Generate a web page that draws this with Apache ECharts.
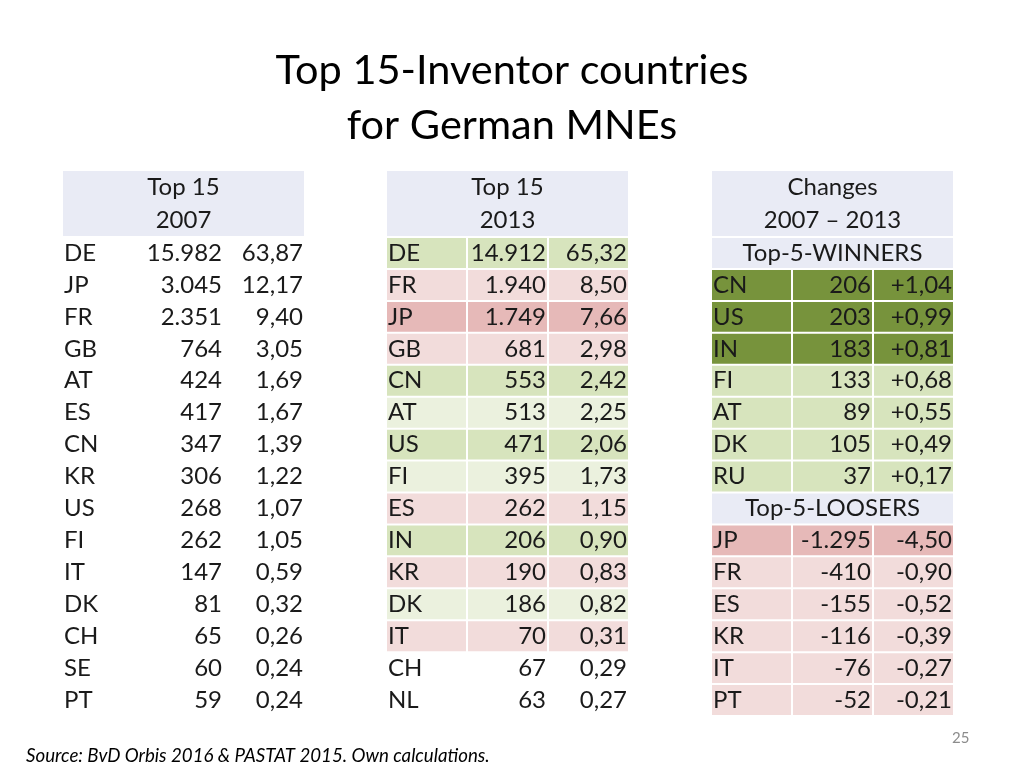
<!DOCTYPE html>
<html><head><meta charset="utf-8">
<script src="https://cdn.jsdelivr.net/npm/echarts@6/dist/echarts.min.js"></script>
<style>html,body{margin:0;padding:0;background:#fff}#c{width:1024px;height:768px}</style>
</head><body><div id="c"></div>
<script>
// ---- data ----
const countries2007 = ['DE','JP','FR','GB','AT','ES','CN','KR','US','FI','IT','DK','CH','SE','PT'];
const counts2007 = [15982,3045,2351,764,424,417,347,306,268,262,147,81,65,60,59];
const shares2007 = [63.87,12.17,9.40,3.05,1.69,1.67,1.39,1.22,1.07,1.05,0.59,0.32,0.26,0.24,0.24];

const countries2013 = ['DE','FR','JP','GB','CN','AT','US','FI','ES','IN','KR','DK','IT','CH','NL'];
const counts2013 = [14912,1940,1749,681,553,513,471,395,262,206,190,186,70,67,63];
const shares2013 = [65.32,8.50,7.66,2.98,2.42,2.25,2.06,1.73,1.15,0.90,0.83,0.82,0.31,0.29,0.27];
const marks2013 = ['g','r','R','r','g','lg','g','lg','r','g','r','lg','r','',''];

const winnerCountries = ['CN','US','IN','FI','AT','DK','RU'];
const winnerCounts = [206,203,183,133,89,105,37];
const winnerShares = [1.04,0.99,0.81,0.68,0.55,0.49,0.17];
const winnerMarks = ['G','G','G','g','g','g','g'];

const loserCountries = ['JP','FR','ES','KR','IT','PT'];
const loserCounts = [-1295,-410,-155,-116,-76,-52];
const loserShares = [-4.50,-0.90,-0.52,-0.39,-0.27,-0.21];
const loserMarks = ['R','r','r','r','r','r'];

const headers = ['Top 15\n2007','Top 15\n2013','Changes\n2007 \u2013 2013'];
const winnersLabel = 'Top-5-WINNERS';
const losersLabel = 'Top-5-LOOSERS';

// ---- styles ----
const FONT = 'Lato, "Open Sans", sans-serif';
const COLORS = {'':null, g:'#d7e4bd', lg:'#ebf1de', G:'#77933c', r:'#f2dcdb', R:'#e6b9b8', h:'#e9ebf5'};
const HEAD_H = 2.1;

function fmtInt(v){
  const s = Math.abs(v).toString().replace(/\B(?=(\d{3})+(?!\d))/g,'.');
  return (v<0?'-':'') + s;
}
function fmtDec(v, sign){
  let s = Math.abs(v).toFixed(2).replace('.',',');
  if (v<0) s = '-'+s; else if (sign) s = '+'+s;
  return s;
}

function rowCells(cells, row, c, n, s, mark, sign){
  const fill = COLORS[mark||''];
  cells.push({x0:0,y0:row,x1:1,y1:row+1,text:c,align:'left',fill});
  cells.push({x0:1,y0:row,x1:2,y1:row+1,text:fmtInt(n),align:'right',fill});
  cells.push({x0:2,y0:row,x1:3,y1:row+1,text:fmtDec(s,sign),align:'right',fill});
}

const cells1 = [{x0:0,y0:-HEAD_H,x1:3,y1:0,text:headers[0],align:'center',fill:COLORS.h}];
countries2007.forEach((c,i)=>rowCells(cells1,i,c,counts2007[i],shares2007[i],'',false));

const cells2 = [{x0:0,y0:-HEAD_H,x1:3,y1:0,text:headers[1],align:'center',fill:COLORS.h}];
countries2013.forEach((c,i)=>rowCells(cells2,i,c,counts2013[i],shares2013[i],marks2013[i],false));

const cells3 = [{x0:0,y0:-HEAD_H,x1:3,y1:0,text:headers[2],align:'center',fill:COLORS.h}];
let r = 0;
cells3.push({x0:0,y0:r,x1:3,y1:r+1,text:winnersLabel,align:'center',fill:COLORS.h}); r++;
winnerCountries.forEach((c,i)=>{rowCells(cells3,r,c,winnerCounts[i],winnerShares[i],winnerMarks[i],true); r++;});
cells3.push({x0:0,y0:r,x1:3,y1:r+1,text:losersLabel,align:'center',fill:COLORS.h}); r++;
loserCountries.forEach((c,i)=>{rowCells(cells3,r,c,loserCounts[i],loserShares[i],loserMarks[i],true); r++;});

const tables = [cells1, cells2, cells3];
const gridLefts = [62, 386, 711];
const gridWidth = 243;

function makeRender(cells){
  return function(params, api){
    const cell = cells[params.dataIndex];
    const p0 = api.coord([api.value(0), api.value(1)]);
    const p1 = api.coord([api.value(2), api.value(3)]);
    const left = Math.min(p0[0],p1[0]), right = Math.max(p0[0],p1[0]);
    const top = Math.min(p0[1],p1[1]), bottom = Math.max(p0[1],p1[1]);
    const children = [];
    if (cell.fill) {
      children.push({type:'rect', shape:{x:left+1,y:top+1,width:right-left-2,height:bottom-top-2},
        style:{fill:cell.fill}, silent:true});
    }
    let tx = (left+right)/2;
    if (cell.align==='left') tx = left+2;
    if (cell.align==='right') tx = right-2;
    children.push({type:'text', style:{text:cell.text, x:tx, y:(top+bottom)/2,
      align:cell.align, verticalAlign:'middle', font:'24px '+FONT, fill:'#1a1a1a', lineHeight:33}, silent:true});
    return {type:'group', children};
  };
}

const grids = [], xAxes = [], yAxes = [], series = [];
tables.forEach((cells, k)=>{
  grids.push({left:gridLefts[k], width:gridWidth, top:170, bottom:52});
  xAxes.push({type:'value', gridIndex:k, min:0, max:3, show:false});
  yAxes.push({type:'value', gridIndex:k, min:-HEAD_H, max:15, inverse:true, show:false});
  series.push({type:'custom', xAxisIndex:k, yAxisIndex:k, clip:false, silent:true,
    encode:{x:[0,2], y:[1,3]},
    data: cells.map(c=>[c.x0,c.y0,c.x1,c.y1]),
    renderItem: makeRender(cells)});
});

const chart = echarts.init(document.getElementById('c'));
chart.setOption({
  animation:false,
  backgroundColor:'#fff',
  title:[
    {text:'Top 15-Inventor countries', left:'center', top:45, textStyle:{fontFamily:FONT, fontSize:41.5, fontWeight:'normal', color:'#000'}},
    {text:'for German MNEs', left:'center', top:100, textStyle:{fontFamily:FONT, fontSize:41.5, fontWeight:'normal', color:'#000'}},
    {text:'Source: BvD Orbis 2016 & PASTAT 2015. Own calculations.', left:21, top:741, textStyle:{fontFamily:FONT, fontSize:18.7, fontStyle:'italic', fontWeight:'normal', color:'#000'}},
    {text:'25', left:947, top:726, textStyle:{fontFamily:FONT, fontSize:15, fontWeight:'normal', color:'#8c8c8c'}}
  ],
  grid:grids, xAxis:xAxes, yAxis:yAxes, series
});
</script></body></html>
